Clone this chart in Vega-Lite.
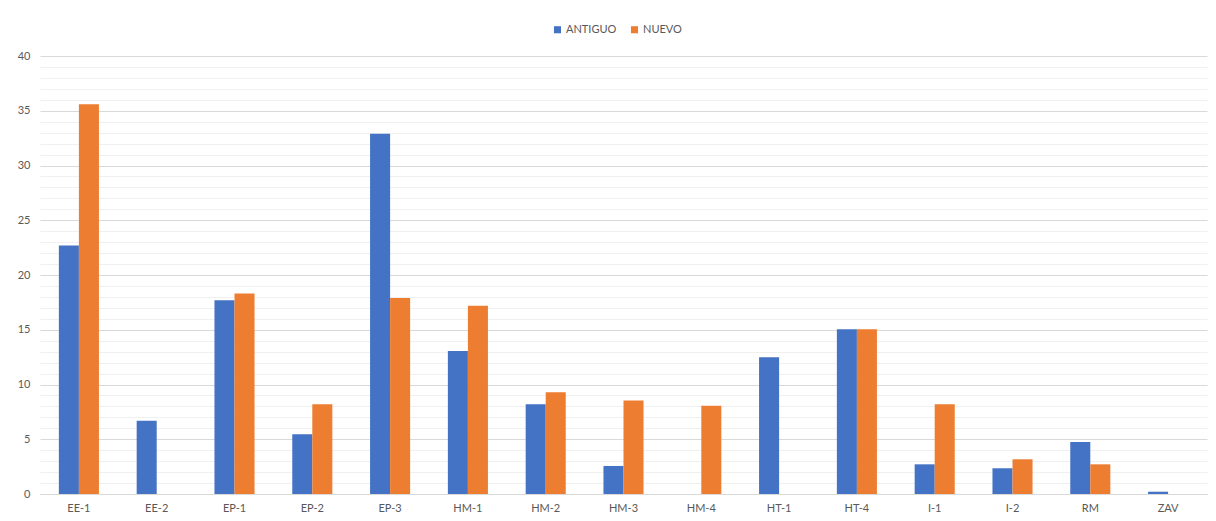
{
  "$schema": "https://vega.github.io/schema/vega-lite/v6.json",
  "width": 1167,
  "height": 438,
  "autosize": "none",
  "padding": {"left": 40, "top": 56, "right": 9, "bottom": 27},
  "background": "white",
  "config": {
    "view": {"stroke": null},
    "font": "Lato",
    "axis": {"labelFont": "Lato", "labelFontSize": 11, "labelColor": "#595959"},
    "legend": {"labelFont": "Lato", "labelFontSize": 11, "labelColor": "#595959"}
  },
  "data": {
    "values": [
      {"cat": "EE-1", "serie": "ANTIGUO", "valor": 22.7},
      {"cat": "EE-1", "serie": "NUEVO", "valor": 35.6},
      {"cat": "EE-2", "serie": "ANTIGUO", "valor": 6.7},
      {"cat": "EE-2", "serie": "NUEVO", "valor": 0},
      {"cat": "EP-1", "serie": "ANTIGUO", "valor": 17.7},
      {"cat": "EP-1", "serie": "NUEVO", "valor": 18.3},
      {"cat": "EP-2", "serie": "ANTIGUO", "valor": 5.45},
      {"cat": "EP-2", "serie": "NUEVO", "valor": 8.2},
      {"cat": "EP-3", "serie": "ANTIGUO", "valor": 32.9},
      {"cat": "EP-3", "serie": "NUEVO", "valor": 17.9},
      {"cat": "HM-1", "serie": "ANTIGUO", "valor": 13.05},
      {"cat": "HM-1", "serie": "NUEVO", "valor": 17.2},
      {"cat": "HM-2", "serie": "ANTIGUO", "valor": 8.2},
      {"cat": "HM-2", "serie": "NUEVO", "valor": 9.3},
      {"cat": "HM-3", "serie": "ANTIGUO", "valor": 2.56},
      {"cat": "HM-3", "serie": "NUEVO", "valor": 8.55},
      {"cat": "HM-4", "serie": "ANTIGUO", "valor": 0},
      {"cat": "HM-4", "serie": "NUEVO", "valor": 8.07},
      {"cat": "HT-1", "serie": "ANTIGUO", "valor": 12.48},
      {"cat": "HT-1", "serie": "NUEVO", "valor": 0},
      {"cat": "HT-4", "serie": "ANTIGUO", "valor": 15.05},
      {"cat": "HT-4", "serie": "NUEVO", "valor": 15.05},
      {"cat": "I-1", "serie": "ANTIGUO", "valor": 2.71},
      {"cat": "I-1", "serie": "NUEVO", "valor": 8.19},
      {"cat": "I-2", "serie": "ANTIGUO", "valor": 2.35},
      {"cat": "I-2", "serie": "NUEVO", "valor": 3.17},
      {"cat": "RM", "serie": "ANTIGUO", "valor": 4.75},
      {"cat": "RM", "serie": "NUEVO", "valor": 2.71},
      {"cat": "ZAV", "serie": "ANTIGUO", "valor": 0.21},
      {"cat": "ZAV", "serie": "NUEVO", "valor": 0}
    ]
  },
  "mark": {"type": "bar"},
  "encoding": {
    "x": {
      "field": "cat",
      "type": "nominal",
      "sort": null,
      "title": null,
      "scale": {"paddingInner": 0.485, "paddingOuter": 0.2425},
      "axis": {
        "labelAngle": 0,
        "ticks": false,
        "domainColor": "#d9d9d9",
        "labelPadding": 8,
        "grid": false
      }
    },
    "xOffset": {"field": "serie", "type": "nominal", "scale": {"paddingInner": 0, "paddingOuter": 0}},
    "y": {
      "field": "valor",
      "type": "quantitative",
      "title": null,
      "scale": {"domain": [0, 40], "nice": false},
      "axis": {
        "values": [0,1,2,3,4,5,6,7,8,9,10,11,12,13,14,15,16,17,18,19,20,21,22,23,24,25,26,27,28,29,30,31,32,33,34,35,36,37,38,39,40],
        "labelExpr": "datum.value % 5 === 0 ? datum.label : ''",
        "grid": true,
        "gridColor": {"condition": {"test": "datum.value % 5 === 0", "value": "#d9d9d9"}, "value": "#f0f0f0"},
        "ticks": false,
        "domain": false,
        "labelPadding": 10
      }
    },
    "color": {
      "field": "serie",
      "type": "nominal",
      "title": null,
      "scale": {"domain": ["ANTIGUO", "NUEVO"], "range": ["#4472C4", "#ED7D31"]},
      "legend": {
        "orient": "none",
        "direction": "horizontal",
        "legendX": 512,
        "legendY": -32,
        "symbolType": "square",
        "symbolSize": 50,
        "columnPadding": 12,
        "labelOffset": 3
      }
    }
  }
}
